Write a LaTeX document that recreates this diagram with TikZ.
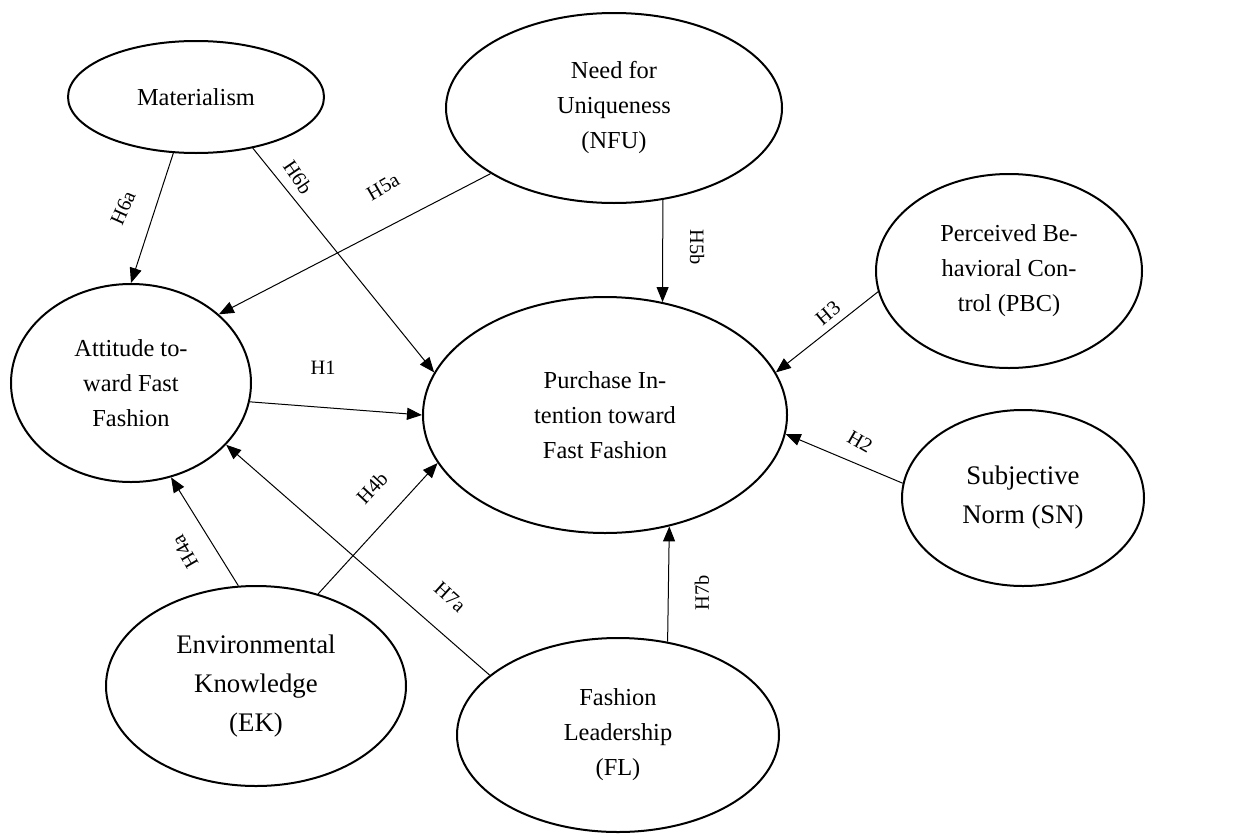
\documentclass[tikz,border=0pt]{standalone}
\usepackage{fontspec}
\setmainfont{Liberation Serif}
\usetikzlibrary{shapes.geometric,arrows.meta}
\begin{document}
\begin{tikzpicture}[x=0.5pt,y=-0.5pt,
  var/.style={ellipse,draw,line width=1pt,inner sep=0pt,align=center,
    font=\fontsize{12.2}{17.5}\selectfont},
  big/.style={font=\fontsize{13.4}{19.5}\selectfont},
  link/.style={line width=0.5pt,-{Triangle[length=7.5pt,width=6pt]}},
  hyp/.style={font=\fontsize{10.2}{12}\selectfont,inner sep=1pt}]
\useasboundingbox (0,0) rectangle (1247,835);
\node[var,minimum width=128pt,minimum height=56pt] (mat) at (196,97) {Materialism};
\node[var,minimum width=168pt,minimum height=95pt] (nfu) at (614,108) {Need for\\Uniqueness\\(NFU)};
\node[var,minimum width=120pt,minimum height=99pt] (att) at (131,383) {Attitude to-\\ward Fast\\Fashion};
\node[var,minimum width=182pt,minimum height=118pt] (pi) at (605,415) {Purchase In-\\tention toward\\Fast Fashion};
\node[var,minimum width=133pt,minimum height=97pt] (pbc) at (1009,271) {Perceived Be-\\havioral Con-\\trol (PBC)};
\node[var,big,minimum width=121pt,minimum height=88pt] (sn) at (1023,498) {Subjective\\Norm (SN)};
\node[var,big,minimum width=150pt,minimum height=100pt] (ek) at (256,686) {Environmental\\Knowledge\\(EK)};
\node[var,minimum width=161pt,minimum height=97pt] (fl) at (618,735) {Fashion\\Leadership\\(FL)};

\draw[link] (mat.-112) -- (att.90);
\draw[link] (mat.-42) -- (pi.166.7);
\draw[link] (nfu.-152.3) -- (att.38.7);
\draw[link] (nfu.-62.2) -- (pi.63);
\draw[link] (pbc.189.5) -- (pi.14);
\draw[link] (sn.173) -- (pi.-6.9);
\draw[link] (att.-9) -- (pi.180);
\draw[link] (ek.100.9) -- (att.-67.9);
\draw[link] (ek.56.2) -- (pi.196.2);
\draw[link] (fl.155.5) -- (att.-33.8);
\draw[link] (fl.62.2) -- (pi.-60.4);

\node[hyp,rotate=66] (l6a) at (123,208) {H6a};
\node[hyp,rotate=-56] (l6b) at (298,177) {H6b};
\node[hyp,rotate=30] (l5a) at (383,187) {H5a};
\node[hyp,rotate=-90] (l5b) at (697,247) {H5b};
\node[hyp,rotate=40] (l3) at (828,313) {H3};
\node[hyp,rotate=-30] (l2) at (860,442) {H2};
\node[hyp] (l1) at (323,368) {H1};
\node[hyp,rotate=120] (l4a) at (185,552) {H4a};
\node[hyp,rotate=47] (l4b) at (372,488) {H4b};
\node[hyp,rotate=-42] (l7a) at (450,597) {H7a};
\node[hyp,rotate=90] (l7b) at (702,593) {H7b};
\end{tikzpicture}
\end{document}
